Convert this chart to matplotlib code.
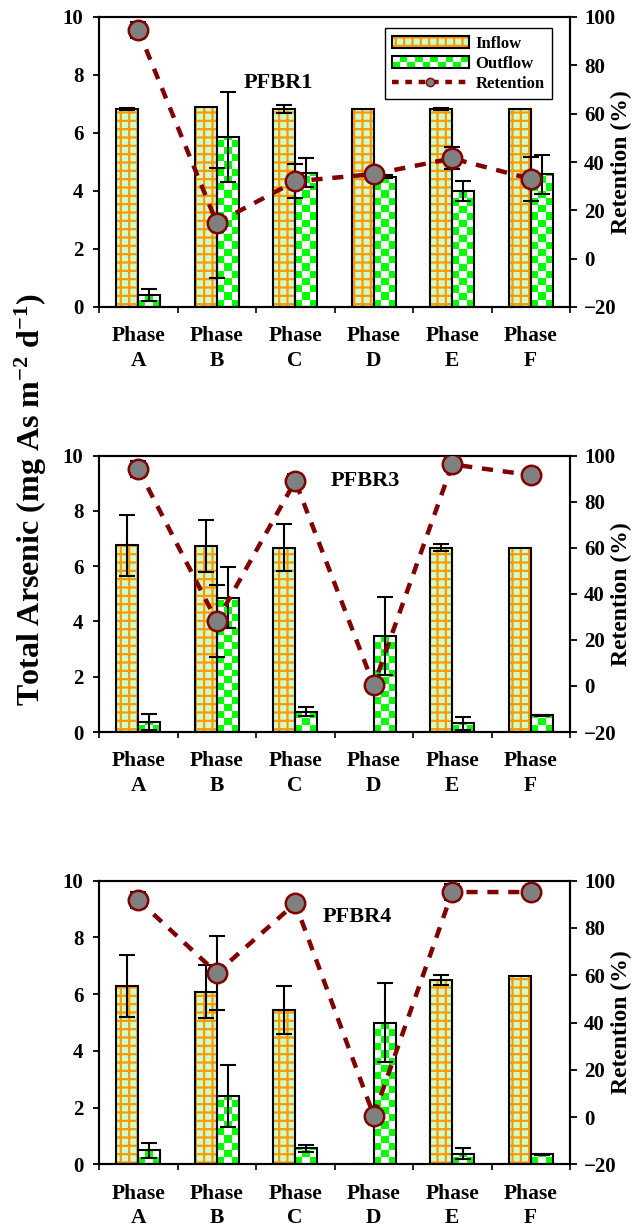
import numpy as np
import matplotlib
matplotlib.use("Agg")
import matplotlib.pyplot as plt
from matplotlib.colors import ListedColormap
from matplotlib.patches import Patch, Rectangle
from matplotlib.lines import Line2D
from matplotlib.legend_handler import HandlerBase, HandlerTuple

plt.rcParams["font.family"] = "Liberation Serif"
plt.rcParams["font.weight"] = "bold"
plt.rcParams["mathtext.fontset"] = "custom"
plt.rcParams["mathtext.rm"] = "Liberation Serif:bold"
plt.rcParams["mathtext.bf"] = "Liberation Serif:bold"
plt.rcParams["mathtext.it"] = "Liberation Serif:bold"
plt.rcParams["hatch.linewidth"] = 1.6

phases = ["A", "B", "C", "D", "E", "F"]
reactors = ["PFBR1", "PFBR3", "PFBR4"]

# mg As m-2 d-1
inflow_1 = [6.83, 6.88, 6.83, 6.83, 6.83, 6.83]
inflow_err_1 = [0.03, 0.0, 0.13, 0.0, 0.04, 0.0]
outflow_1 = [0.41, 5.87, 4.63, 4.49, 4.00, 4.57]
outflow_err_1 = [0.21, 1.55, 0.50, 0.05, 0.34, 0.66]
retention_1 = [94.6, 14.8, 32.0, 35.0, 41.5, 33.0]
retention_err_1 = [3.3, 22.7, 7.0, 1.0, 4.6, 9.0]

inflow_3 = [6.75, 6.73, 6.67, 0.0, 6.67, 6.67]
inflow_err_3 = [1.10, 0.95, 0.85, 0.0, 0.12, 0.0]
outflow_3 = [0.36, 4.86, 0.74, 3.47, 0.31, 0.60]
outflow_err_3 = [0.28, 1.10, 0.15, 1.42, 0.22, 0.03]
retention_3 = [94.2, 28.2, 89.0, 0.3, 96.2, 91.6]
retention_err_3 = [3.5, 15.8, 3.0, 1.0, 3.0, 1.0]

inflow_4 = [6.28, 6.08, 5.43, 0.0, 6.50, 6.63]
inflow_err_4 = [1.10, 0.93, 0.85, 0.0, 0.17, 0.0]
outflow_4 = [0.49, 2.41, 0.56, 5.00, 0.38, 0.35]
outflow_err_4 = [0.26, 1.10, 0.13, 1.40, 0.20, 0.03]
retention_4 = [91.8, 61.0, 90.4, 0.6, 95.2, 95.2]
retention_err_4 = [3.4, 15.7, 2.0, 1.0, 3.4, 0.5]

panels = [
    (inflow_1, inflow_err_1, outflow_1, outflow_err_1, retention_1, retention_err_1),
    (inflow_3, inflow_err_3, outflow_3, outflow_err_3, retention_3, retention_err_3),
    (inflow_4, inflow_err_4, outflow_4, outflow_err_4, retention_4, retention_err_4),
]

LIGHT = "#ccffcc"
ORANGE = "#ff9900"
GREEN = "#00ff00"
DARKRED = "#800000"
checker_cmap = ListedColormap([GREEN, "white"])

W, H = 635, 1231
# (top, bottom) of each panel in pixels
rows_px = [(17, 307), (455.7, 732), (880.7, 1164.3)]
left_px, right_px = 99, 570
title_pos = [(0.38, 0.774), (0.565, 0.91), (0.548, 0.871)]


class CheckerHandler(HandlerBase):
    def create_artists(self, legend, orig_handle, xdescent, ydescent,
                       width, height, fontsize, trans):
        n, m = 10, 2
        w, h = width / n, height / m
        arts = []
        for i in range(n):
            for j in range(m):
                c = GREEN if (i + j) % 2 == 0 else "white"
                arts.append(Rectangle((-xdescent + i * w, -ydescent + j * h), w, h,
                                      facecolor=c, edgecolor="none", transform=trans))
        arts.append(Rectangle((-xdescent, -ydescent), width, height, fill=False,
                              edgecolor="black", lw=1.5, transform=trans))
        return arts


fig = plt.figure(figsize=(W / 100, H / 100), dpi=100)
x = np.arange(len(phases))
bw = 0.28

for k, (inf, inf_e, out, out_e, ret, ret_e) in enumerate(panels):
    top, bot = rows_px[k]
    ax = fig.add_axes([left_px / W, 1 - bot / H, (right_px - left_px) / W, (bot - top) / H])

    # inflow: light green with orange grid
    ax.bar(x - bw / 2, inf, bw, facecolor=LIGHT, edgecolor=ORANGE, hatch="++", lw=0, zorder=2)
    ax.bar(x - bw / 2, inf, bw, fill=False, edgecolor="black", lw=1.5, zorder=2.3)

    # outflow: green / white checkerboard
    obars = ax.bar(x + bw / 2, out, bw, color="white", edgecolor="none", zorder=2)
    for r in obars:
        h = r.get_height()
        if h <= 0:
            continue
        nrow = int(np.ceil(h / 0.25))
        pat = np.add.outer(np.arange(nrow), np.arange(3)) % 2
        im = ax.imshow(pat, cmap=checker_cmap, extent=(r.get_x(), r.get_x() + r.get_width(), 0, nrow * 0.25),
                       origin="lower", aspect="auto", interpolation="nearest", zorder=2.1)
        im.set_clip_path(r)
    ax.bar(x + bw / 2, out, bw, fill=False, edgecolor="black", lw=1.5, zorder=2.3)

    inf_a, inf_ea = np.array(inf), np.array(inf_e)
    m = inf_ea > 0
    ax.errorbar((x - bw / 2)[m], inf_a[m], yerr=inf_ea[m], fmt="none", ecolor="black",
                elinewidth=1.5, capsize=5.5, capthick=1.5, zorder=3)
    out_a, out_ea = np.array(out), np.array(out_e)
    m = out_ea > 0
    ax.errorbar((x + bw / 2)[m], out_a[m], yerr=out_ea[m], fmt="none", ecolor="black",
                elinewidth=1.5, capsize=5.5, capthick=1.5, zorder=3)

    ax.set_xlim(-0.5, len(phases) - 0.5)
    ax.set_ylim(0, 10)
    ax.set_yticks(np.arange(0, 11, 2))
    ax.set_xticks(np.arange(-0.5, len(phases), 1))
    ax.set_xticklabels([])
    ax.set_xticks(x, minor=True)
    ax.set_xticklabels([f"Phase\n{p}" for p in phases], minor=True, fontsize=15.5, linespacing=1.3)
    ax.tick_params(axis="x", which="minor", length=0, pad=14)
    ax.tick_params(axis="x", which="major", direction="out", length=4.5, width=1.2, top=False)
    ax.tick_params(axis="y", direction="out", length=4.3, width=1.3, labelsize=15, pad=7)
    for s in ax.spines.values():
        s.set_linewidth(1.5)

    ax2 = ax.twinx()
    ax2.errorbar(x, ret, yerr=ret_e, fmt="none", ecolor="black", elinewidth=1.5,
                 capsize=5.5, capthick=1.5, zorder=2)
    ax2.plot(x, ret, color=DARKRED, lw=3.2, ls=(0, (2.5, 2.2)), marker="o", markersize=14,
             markerfacecolor="#808080", markeredgecolor=DARKRED, markeredgewidth=1.8, zorder=3)
    ax2.set_ylim(-20, 100)
    ax2.set_yticks(np.arange(-20, 101, 20))
    ax2.tick_params(axis="y", direction="out", length=5, width=1.3, labelsize=15, pad=5)
    for s in ax2.spines.values():
        s.set_linewidth(1.5)
    ax2.set_ylabel("Retention (%)", fontsize=17, fontweight="bold")
    ax2.yaxis.set_label_coords(1.087, 0.5)

    ax2.text(*title_pos[k], reactors[k], transform=ax2.transAxes, ha="center", va="center",
             fontsize=16, fontweight="bold", zorder=5)

    if k == 0:
        outflow_handle = Patch()
        handles = [
            (Patch(facecolor=LIGHT, edgecolor=ORANGE, hatch="++", lw=0),
             Patch(fill=False, edgecolor="black", lw=1.5)),
            outflow_handle,
            Line2D([], [], color=DARKRED, lw=3.2, ls=(0, (1.5, 1.5)), marker="o", markersize=6,
                   markerfacecolor="#808080", markeredgecolor=DARKRED),
        ]
        leg = ax2.legend(handles, ["Inflow", "Outflow", "Retention"], loc="upper right",
                         bbox_to_anchor=(0.962, 0.962), borderaxespad=0, fontsize=12,
                         handlelength=4.6, handletextpad=0.4, borderpad=0.45, labelspacing=0.25,
                         fancybox=False, framealpha=1, edgecolor="black",
                         handler_map={tuple: HandlerTuple(ndivide=1),
                                      outflow_handle: CheckerHandler()})
        leg.get_frame().set_linewidth(1.0)
        leg.set_zorder(6)

fig.text(31 / W, 1 - 500 / H, "Total Arsenic (mg As m$^{-2}$ d$^{-1}$)", rotation=90,
         ha="center", va="center", fontsize=23, fontweight="bold")

fig.savefig("out.png", dpi=100)
